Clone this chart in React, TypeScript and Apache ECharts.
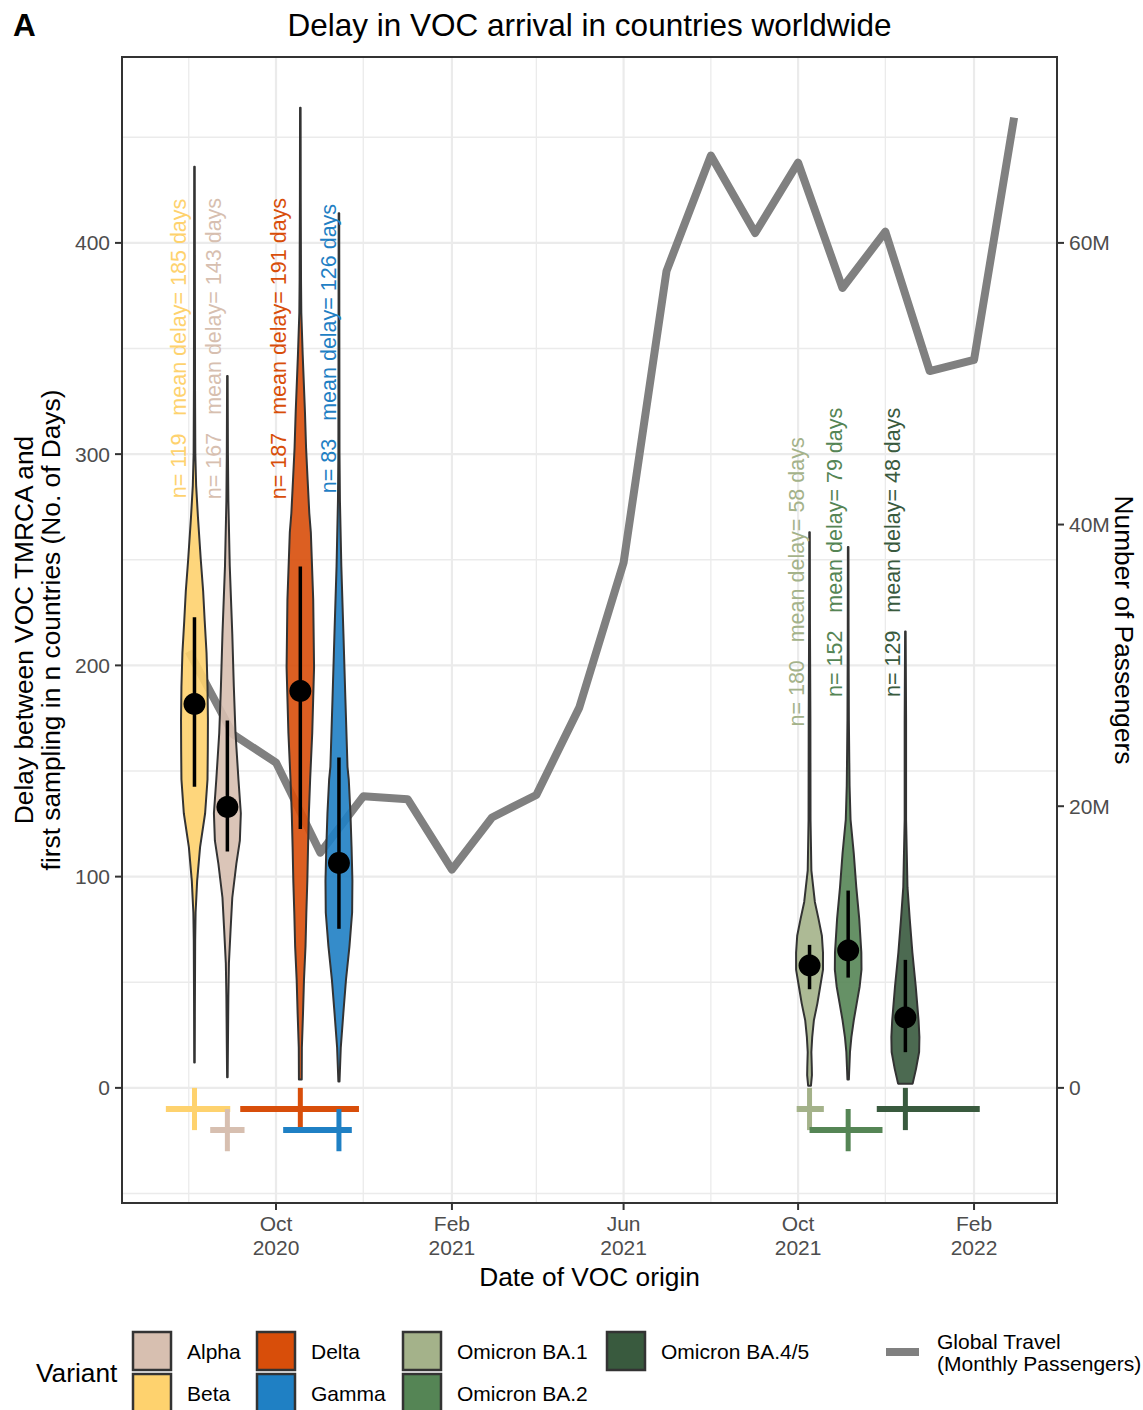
import React, { useEffect, useRef } from "react";
import * as echarts from "echarts";

// ---------------- data ----------------
const variants = ["Beta", "Alpha", "Delta", "Gamma", "Omicron BA.1", "Omicron BA.2", "Omicron BA.4/5"];
const variantColors = ["#FED26E", "#D7BFB0", "#D84E0A", "#1F80C4", "#A4B28A", "#558555", "#395A3E"];
const originMean = ["2020-08-05", "2020-08-28", "2020-10-18", "2020-11-14", "2021-10-09", "2021-11-05", "2021-12-15"];
const originLow = ["2020-07-16", "2020-08-16", "2020-09-06", "2020-10-06", "2021-09-30", "2021-10-09", "2021-11-25"];
const originHigh = ["2020-08-30", "2020-09-09", "2020-11-28", "2020-11-23", "2021-10-19", "2021-11-29", "2022-02-05"];
const crossRow = [-10, -20, -10, -20, -10, -20, -10];
const sampleSizes = [119, 167, 187, 83, 180, 152, 129];
const meanDelays = [185, 143, 191, 126, 58, 79, 48];
const delayPoint = [181.7, 133, 187.9, 106.5, 57.9, 65, 33.3];
const delayLow = [142.6, 111.9, 122.6, 75.3, 46.7, 52.2, 16.9];
const delayHigh = [222.8, 173.9, 246.8, 156.4, 67.7, 93.4, 60.6];
const labelDate = ["2020-07-25", "2020-08-19", "2020-10-03", "2020-11-07", "2021-09-30", "2021-10-27", "2021-12-06"];
const labelDelay = [350, 350, 350, 350, 239.5, 253.5, 253.5];

// violin profiles: [delay (days), relative density width]
const violinBeta = [[436, 0.02], [380, 0.03], [330, 0.04], [300, 0.06], [285, 0.12], [270, 0.25], [250, 0.45], [235, 0.62], [221, 0.73], [206, 0.86], [190, 0.93], [174, 0.96], [160, 0.95], [146, 0.93], [130, 0.76], [114, 0.4], [98, 0.19], [83, 0.08], [70, 0.05], [40, 0.03], [12, 0.02]];
const violinAlpha = [[337, 0.02], [300, 0.04], [278, 0.07], [247, 0.17], [215, 0.35], [190, 0.46], [168, 0.58], [146, 0.79], [130, 0.96], [117, 0.89], [106, 0.64], [90, 0.35], [75, 0.23], [59, 0.11], [43, 0.07], [20, 0.04], [5, 0.02]];
const violinDelta = [[464, 0.02], [420, 0.03], [382, 0.05], [367, 0.07], [347, 0.17], [320, 0.33], [303, 0.41], [288, 0.52], [272, 0.64], [263, 0.75], [231, 0.92], [199, 0.98], [168, 0.85], [146, 0.7], [130, 0.61], [114, 0.55], [98, 0.5], [83, 0.43], [67, 0.37], [51, 0.26], [35, 0.19], [19, 0.11], [4, 0.1]];
const violinGamma = [[414, 0.02], [350, 0.03], [300, 0.04], [278, 0.07], [247, 0.17], [215, 0.32], [184, 0.46], [152, 0.61], [146, 0.7], [130, 0.82], [114, 0.9], [98, 0.96], [83, 0.94], [67, 0.75], [51, 0.5], [35, 0.31], [19, 0.13], [3, 0.04]];
const violinBA1 = [[263, 0.02], [220, 0.03], [174, 0.06], [127, 0.07], [103, 0.13], [88, 0.38], [80, 0.64], [72, 0.88], [64, 0.96], [56, 0.96], [48, 0.76], [40, 0.56], [32, 0.31], [24, 0.19], [17, 0.13], [10, 0.16], [6, 0.17], [1, 0.1]];
const violinBA2 = [[256, 0.02], [210, 0.03], [174, 0.05], [143, 0.1], [127, 0.17], [111, 0.4], [95, 0.58], [80, 0.79], [64, 0.94], [56, 0.95], [48, 0.82], [40, 0.61], [32, 0.4], [24, 0.23], [17, 0.13], [4, 0.05]];
const violinBA45 = [[216, 0.02], [174, 0.05], [127, 0.05], [95, 0.15], [80, 0.31], [64, 0.5], [48, 0.74], [32, 0.94], [24, 1.0], [17, 0.98], [9, 0.76], [2, 0.52]];
const violinProfiles = [violinBeta, violinAlpha, violinDelta, violinGamma, violinBA1, violinBA2, violinBA45];

const travelMonths = ["2020-08-01", "2020-09-01", "2020-10-01", "2020-11-01", "2020-12-01", "2021-01-01", "2021-02-01", "2021-03-01", "2021-04-01", "2021-05-01", "2021-06-01", "2021-07-01", "2021-08-01", "2021-09-01", "2021-10-01", "2021-11-01", "2021-12-01", "2022-01-01", "2022-02-01", "2022-03-01"];
const travelPassengersM = [31.0, 25.1, 23.1, 16.7, 20.7, 20.5, 15.5, 19.2, 20.8, 27.0, 37.3, 58.0, 66.2, 60.7, 65.7, 56.8, 60.8, 50.9, 51.7, 68.9];

const xMajorTicks = ["2020-10-01", "2021-02-01", "2021-06-01", "2021-10-01", "2022-02-01"];
const xMajorLabels = ["Oct\n2020", "Feb\n2021", "Jun\n2021", "Oct\n2021", "Feb\n2022"];
const xMinorTicks = ["2020-08-01", "2020-12-01", "2021-04-01", "2021-08-01", "2021-12-01"];
const yMajorTicks = [0, 100, 200, 300, 400];
const yMajorLabels = ["0", "100", "200", "300", "400"];
const yMinorTicks = [-50, 50, 150, 250, 350, 450];
const rightTicks = [0, 20e6, 40e6, 60e6];
const rightLabels = ["0", "20M", "40M", "60M"];

const xDomain = ["2020-06-15T08:00:00Z", "2022-03-31T00:00:00Z"];
const yDomain = [-54.5, 488];
const PASSENGERS_PER_DELAY_UNIT = 150000;

// ---------------- helpers ----------------
const DAY = 86400000;
const ms = (d: string) => Date.parse(d.length === 10 ? d + "T00:00:00Z" : d);
const FONT = "'Liberation Sans', Arial, Helvetica, sans-serif";
const VIOLIN_HALF_WIDTH_DAYS = 9.8;

function rgba(hex: string, a: number) {
  const n = parseInt(hex.slice(1), 16);
  return `rgba(${(n >> 16) & 255},${(n >> 8) & 255},${n & 255},${a})`;
}

function txt(text: string, x: number, y: number, size: number, opts: any = {}) {
  const align = opts.align || "left";
  const va = opts.va || "middle";
  return {
    type: "text",
    x,
    y,
    rotation: opts.rotation || 0,
    silent: true,
    style: {
      text,
      x: 0,
      y: 0,
      fill: opts.fill || "#000000",
      fontSize: size,
      fontFamily: FONT,
      fontWeight: opts.bold ? "bold" : "normal",
      align,
      textAlign: align,
      verticalAlign: va,
      textVerticalAlign: va,
      lineHeight: opts.lineHeight,
    },
  };
}

function buildOption() {
  const xMin = ms(xDomain[0]);
  const xMax = ms(xDomain[1]);

  const xGridData = [
    ...xMajorTicks.map((d) => [ms(d), 1]),
    ...xMinorTicks.map((d) => [ms(d), 0]),
  ];
  const yGridData = [
    ...yMajorTicks.map((v) => [xMin, v, 1]),
    ...yMinorTicks.map((v) => [xMin, v, 0]),
  ];

  const series: any[] = [
    {
      type: "custom",
      name: "xgrid",
      z: 1,
      silent: true,
      data: xGridData,
      renderItem: (params: any, api: any) => {
        const cs = params.coordSys;
        const x = api.coord([api.value(0), 0])[0];
        const major = xGridData[params.dataIndex][1] === 1;
        return {
          type: "line",
          shape: { x1: x, y1: cs.y, x2: x, y2: cs.y + cs.height },
          style: { stroke: "#EBEBEB", lineWidth: major ? 2.2 : 1.3 },
        };
      },
    },
    {
      type: "custom",
      name: "ygrid",
      z: 1,
      silent: true,
      data: yGridData,
      renderItem: (params: any, api: any) => {
        const cs = params.coordSys;
        const y = api.coord([xMin, api.value(1)])[1];
        const major = yGridData[params.dataIndex][2] === 1;
        return {
          type: "line",
          shape: { x1: cs.x, y1: y, x2: cs.x + cs.width, y2: y },
          style: { stroke: "#EBEBEB", lineWidth: major ? 2.2 : 1.3 },
        };
      },
    },
    {
      type: "line",
      name: "Global Travel",
      yAxisIndex: 1,
      z: 2,
      silent: true,
      symbol: "none",
      data: travelMonths.map((m, i) => [ms(m), travelPassengersM[i] * 1e6]),
      lineStyle: { color: "#808080", width: 8, join: "round", cap: "butt" },
    },
    {
      type: "custom",
      name: "violins",
      z: 3,
      silent: true,
      data: variants.map((_, i) => [ms(originMean[i]), delayPoint[i]]),
      renderItem: (params: any, api: any) => {
        const i = params.dataIndex;
        const cx = ms(originMean[i]);
        const prof = violinProfiles[i];
        const right = prof.map(([v, d]) => api.coord([cx + d * VIOLIN_HALF_WIDTH_DAYS * DAY, v]));
        const left = prof
          .slice()
          .reverse()
          .map(([v, d]) => api.coord([cx - d * VIOLIN_HALF_WIDTH_DAYS * DAY, v]));
        return {
          type: "polygon",
          shape: { points: right.concat(left) },
          style: { fill: rgba(variantColors[i], 0.9), stroke: "#333333", lineWidth: 2, lineJoin: "round" },
        };
      },
    },
    {
      type: "custom",
      name: "summary",
      z: 4,
      silent: true,
      data: variants.map((_, i) => [ms(originMean[i]), delayPoint[i]]),
      renderItem: (params: any, api: any) => {
        const i = params.dataIndex;
        const cx = ms(originMean[i]);
        const lo = api.coord([cx, delayLow[i]]);
        const hi = api.coord([cx, delayHigh[i]]);
        const pt = api.coord([cx, delayPoint[i]]);
        return {
          type: "group",
          children: [
            { type: "line", shape: { x1: lo[0], y1: lo[1], x2: hi[0], y2: hi[1] }, style: { stroke: "#000000", lineWidth: 3.5 } },
            { type: "circle", shape: { cx: pt[0], cy: pt[1], r: 11 }, style: { fill: "#000000" } },
          ],
        };
      },
    },
    {
      type: "custom",
      name: "origin",
      z: 4,
      silent: true,
      data: variants.map((_, i) => [ms(originMean[i]), crossRow[i]]),
      renderItem: (params: any, api: any) => {
        const i = params.dataIndex;
        const r = crossRow[i];
        const a = api.coord([ms(originLow[i]), r]);
        const b = api.coord([ms(originHigh[i]), r]);
        const t = api.coord([ms(originMean[i]), r + 10]);
        const u = api.coord([ms(originMean[i]), r - 10]);
        const c = variantColors[i];
        return {
          type: "group",
          children: [
            { type: "line", shape: { x1: a[0], y1: a[1], x2: b[0], y2: b[1] }, style: { stroke: c, lineWidth: 6 } },
            { type: "line", shape: { x1: t[0], y1: t[1], x2: u[0], y2: u[1] }, style: { stroke: c, lineWidth: 5 } },
          ],
        };
      },
    },
    {
      type: "custom",
      name: "labels",
      z: 6,
      silent: true,
      data: variants.map((_, i) => [ms(labelDate[i]), labelDelay[i]]),
      renderItem: (params: any, api: any) => {
        const i = params.dataIndex;
        const p = api.coord([ms(labelDate[i]), labelDelay[i]]);
        return txt(`n= ${sampleSizes[i]}   mean delay= ${meanDelays[i]} days`, p[0], p[1], 21.5, {
          align: "center",
          rotation: Math.PI / 2,
          fill: variantColors[i],
        });
      },
    },
    {
      type: "custom",
      name: "frame",
      z: 9,
      silent: true,
      data: [[xMin, 0]],
      renderItem: (params: any) => {
        const cs = params.coordSys;
        return {
          type: "rect",
          shape: { x: cs.x, y: cs.y, width: cs.width, height: cs.height },
          style: { fill: "none", stroke: "#333333", lineWidth: 2 },
        };
      },
    },
    {
      type: "custom",
      name: "xaxis",
      z: 9,
      silent: true,
      data: xMajorTicks.map((d) => [ms(d), yDomain[0]]),
      renderItem: (params: any, api: any) => {
        const i = params.dataIndex;
        const cs = params.coordSys;
        const x = api.coord([ms(xMajorTicks[i]), 0])[0];
        const yb = cs.y + cs.height;
        return {
          type: "group",
          children: [
            { type: "line", shape: { x1: x, y1: yb, x2: x, y2: yb + 7 }, style: { stroke: "#333333", lineWidth: 2 } },
            txt(xMajorLabels[i], x, yb + 9, 21, { align: "center", va: "top", fill: "#4D4D4D", lineHeight: 23.5 }),
          ],
        };
      },
    },
    {
      type: "custom",
      name: "yaxis",
      z: 9,
      silent: true,
      data: yMajorTicks.map((v) => [xMin, v]),
      renderItem: (params: any, api: any) => {
        const i = params.dataIndex;
        const cs = params.coordSys;
        const y = api.coord([xMin, yMajorTicks[i]])[1];
        return {
          type: "group",
          children: [
            { type: "line", shape: { x1: cs.x - 7, y1: y, x2: cs.x, y2: y }, style: { stroke: "#333333", lineWidth: 2 } },
            txt(yMajorLabels[i], cs.x - 12, y, 21, { align: "right", fill: "#4D4D4D" }),
          ],
        };
      },
    },
    {
      type: "custom",
      name: "yaxis2",
      yAxisIndex: 1,
      z: 9,
      silent: true,
      data: rightTicks.map((v) => [xMax, v]),
      renderItem: (params: any, api: any) => {
        const i = params.dataIndex;
        const cs = params.coordSys;
        const y = api.coord([xMax, rightTicks[i]])[1];
        const xr = cs.x + cs.width;
        return {
          type: "group",
          children: [
            { type: "line", shape: { x1: xr, y1: y, x2: xr + 7, y2: y }, style: { stroke: "#333333", lineWidth: 2 } },
            txt(rightLabels[i], xr + 12, y, 21, { align: "left", fill: "#4D4D4D" }),
          ],
        };
      },
    },
  ];

  // legend (alphabetical, two rows)
  const legendCols = [[1, 0], [2, 3], [4, 5], [6]];
  const legendColX = [133, 257, 403, 607];
  const legendRowY = [1332, 1374];
  const graphic: any[] = [
    txt("A", 13, 25, 31.5, { bold: true }),
    txt("Delay in VOC arrival in countries worldwide", 589.5, 25, 31.5, { align: "center" }),
    txt("Delay between VOC TMRCA and", 24, 630, 26.3, { align: "center", rotation: Math.PI / 2 }),
    txt("first sampling in n countries (No. of Days)", 51, 630, 26.3, { align: "center", rotation: Math.PI / 2 }),
    txt("Number of Passengers", 1124, 630, 26.3, { align: "center", rotation: -Math.PI / 2 }),
    txt("Date of VOC origin", 589.5, 1277, 26.3, { align: "center" }),
    txt("Variant", 36, 1373, 26.3, {}),
  ];
  legendCols.forEach((col, c) => {
    col.forEach((vi, r) => {
      const x = legendColX[c];
      const y = legendRowY[r];
      graphic.push({
        type: "rect",
        silent: true,
        shape: { x: x, y: y, width: 38, height: 38 },
        style: { fill: variantColors[vi], stroke: "#333333", lineWidth: 2.5 },
      });
      graphic.push(txt(variants[vi], x + 54, y + 19, 21, {}));
    });
  });
  graphic.push({
    type: "line",
    silent: true,
    shape: { x1: 886, y1: 1352, x2: 919, y2: 1352 },
    style: { stroke: "#808080", lineWidth: 8 },
  });
  graphic.push(txt("Global Travel", 937, 1341, 21, {}));
  graphic.push(txt("(Monthly Passengers)", 937, 1363, 21, {}));

  return {
    animation: false,
    backgroundColor: "#ffffff",
    grid: { left: 122, top: 57, width: 935, height: 1146, show: false },
    xAxis: { type: "value", min: xMin, max: xMax, show: false },
    yAxis: [
      { type: "value", min: yDomain[0], max: yDomain[1], show: false },
      {
        type: "value",
        min: yDomain[0] * PASSENGERS_PER_DELAY_UNIT,
        max: yDomain[1] * PASSENGERS_PER_DELAY_UNIT,
        show: false,
      },
    ],
    series,
    graphic,
  };
}

export default function App() {
  const ref = useRef<HTMLDivElement>(null);
  useEffect(() => {
    const chart = echarts.init(ref.current as HTMLDivElement, null, { renderer: "svg" });
    chart.setOption(buildOption() as any);
    return () => chart.dispose();
  }, []);
  return (
    <div
      ref={ref}
      style={{ position: "absolute", left: 0, top: 0, width: 1143, height: 1410, background: "#ffffff" }}
    />
  );
}
